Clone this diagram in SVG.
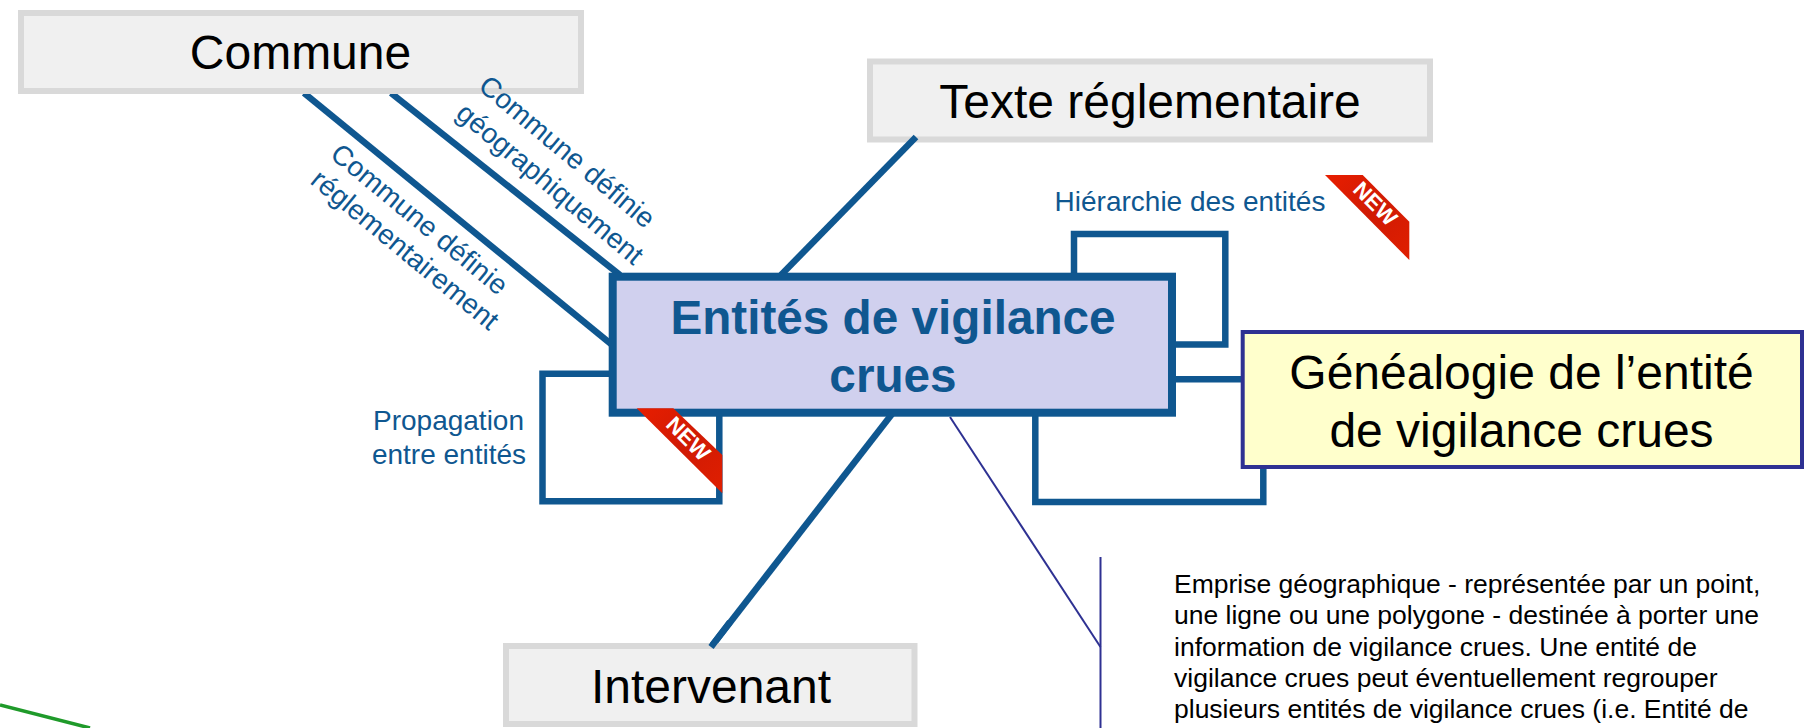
<svg xmlns="http://www.w3.org/2000/svg" width="1806" height="728" viewBox="0 0 1806 728">
<style>
text{font-family:"Liberation Sans",Arial,sans-serif;text-anchor:middle}
.grey{fill:#f0f0f0;stroke:#d9d9d9;stroke-width:6}
.big{font-size:48px;fill:#000}
.head{font-size:47.700px;font-weight:bold;fill:#0f5790}
.lab{font-size:28px;fill:#0f5790}
.conn{fill:none;stroke:#0f5790;stroke-width:6.500}
.thin{fill:none;stroke:#2e3192;stroke-width:2}
.rib{fill:url(#rg)}
.new{font-size:22px;font-weight:bold;fill:#fff}
.note{font-size:26.500px;fill:#000;text-anchor:start}
</style>
<defs>
<linearGradient id="rg" x1="0" y1="0" x2="1" y2="1"><stop offset="0" stop-color="#e81e00"/><stop offset="0.5" stop-color="#d01a04"/><stop offset="1" stop-color="#e01f00"/></linearGradient>
</defs>
<rect width="1806" height="728" fill="#fff"/>
<g id="connectors">
<path class="conn" d="M304 93 L611 344"/>
<path class="conn" d="M391 93 L620 275"/>
<path class="conn" d="M892 414 L711 647"/>
<path class="conn" d="M612 373.700 H542.500 V501.300 H719.300 V414"/>
<path class="conn" d="M1074 275 V234 H1225.300 V344.500 H1174"/>
<path class="conn" d="M1174 379.300 H1242"/>
<path class="conn" d="M1035.300 414 V502 H1263.300 V467"/>
<path class="thin" d="M950 417 L1100.500 647"/>
<path class="thin" d="M1100.500 557 V728"/>
<path d="M0 705 L90 728" fill="none" stroke="#1f9a2a" stroke-width="3.500"/>
</g>
<g id="commune"><rect class="grey" x="21" y="13" width="560" height="78"/><text class="big" x="300.500" y="69">Commune</text></g>
<g id="texte"><rect class="grey" x="870" y="61.500" width="560" height="78"/><text class="big" x="1150" y="118">Texte réglementaire</text></g>
<g id="intervenant"><rect class="grey" x="506" y="646" width="408.500" height="78"/><text class="big" x="711" y="703">Intervenant</text></g>
<g id="connectors-over-boxes">
<path class="conn" d="M730 622 L711 647"/>
<path class="conn" d="M916 137 L781 275"/>
</g>
<g id="entites"><rect x="612.700" y="276.700" width="559.300" height="136" fill="#d0d0ee" stroke="#0f5790" stroke-width="8"/><text class="head" x="893" y="334">Entités de vigilance</text><text class="head" x="893" y="391.500">crues</text></g>
<g id="genealogie"><rect x="1242.700" y="332" width="559.300" height="135" fill="#ffffcc" stroke="#2e3192" stroke-width="4"/><text class="big" x="1521.500" y="389">Généalogie de l’entité</text><text class="big" x="1521.500" y="447">de vigilance crues</text></g>
<g id="labels">
<text class="lab" transform="translate(561 159) rotate(40)">Commune définie</text>
<text class="lab" transform="translate(544 191) rotate(40)">géographiquement</text>
<text class="lab" transform="translate(413.500 226.500) rotate(39.500)">Commune définie</text>
<text class="lab" transform="translate(399 257) rotate(39.500)">réglementairement</text>
<text class="lab" x="448.500" y="430">Propagation</text>
<text class="lab" x="449" y="464">entre entités</text>
<text class="lab" x="1190" y="210.700">Hiérarchie des entités</text>
</g>
<g id="new-1"><polygon class="rib" points="1325,175 1362.700,175 1409.300,221.700 1409.300,260"/><text class="new" transform="translate(1370 209) rotate(45)">NEW</text></g>
<g id="new-2"><polygon class="rib" points="636.700,408.300 673.300,408.300 722.300,455 722.300,493.300"/><text class="new" transform="translate(683 444) rotate(45)">NEW</text></g>
<g id="note">
<text class="note" x="1174" y="593">Emprise géographique - représentée par un point,</text>
<text class="note" x="1174" y="624">une ligne ou une polygone - destinée à porter une</text>
<text class="note" x="1174" y="655.500">information de vigilance crues. Une entité de</text>
<text class="note" x="1174" y="686.500">vigilance crues peut éventuellement regrouper</text>
<text class="note" x="1174" y="718">plusieurs entités de vigilance crues (i.e. Entité de</text>
</g>
</svg>
